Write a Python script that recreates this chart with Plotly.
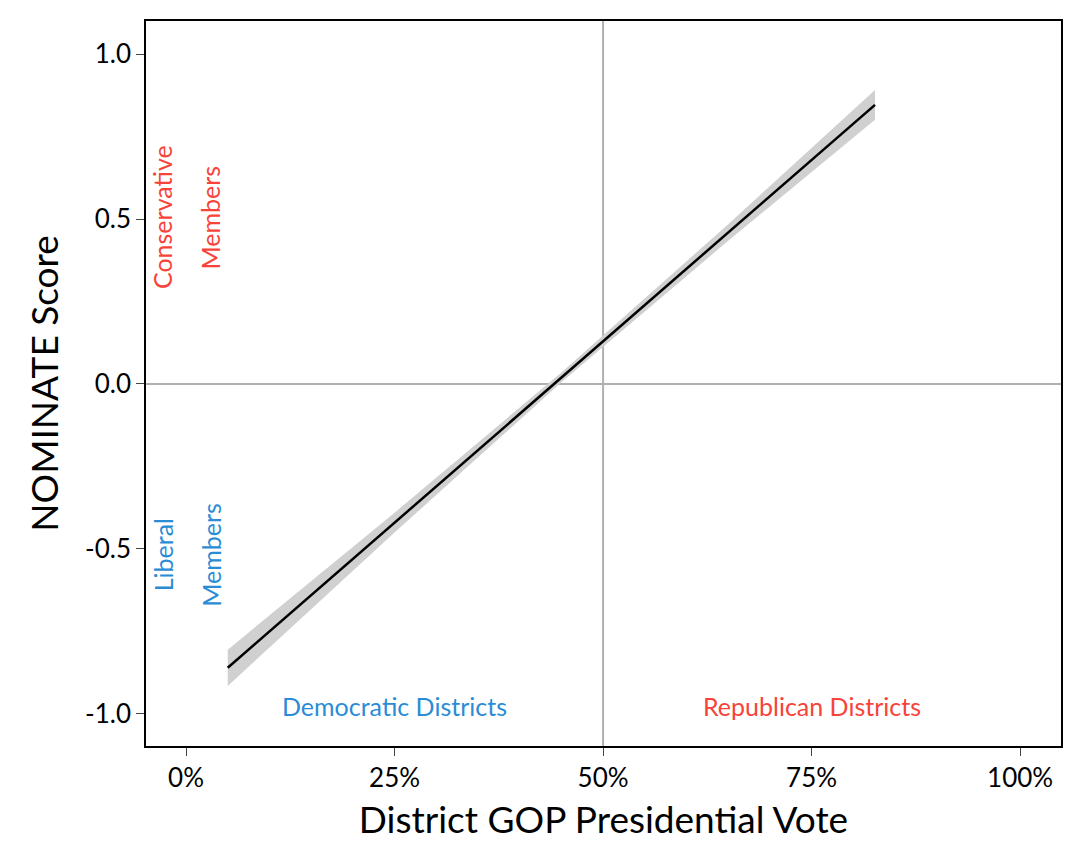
import plotly.graph_objects as go

# fitted line and confidence band
vote = [0.05, 0.25, 0.45, 0.65, 0.826]
fit = [-0.86, -0.42, 0.02, 0.459, 0.846]
lower = [-0.915, -0.45, 0.005, 0.434, 0.801]
upper = [-0.805, -0.39, 0.035, 0.484, 0.891]

x_ticks = [0, 0.25, 0.5, 0.75, 1.0]
x_labels = ['0%', '25%', '50%', '75%', '100%']
y_ticks = [-1.0, -0.5, 0.0, 0.5, 1.0]
y_labels = ['-1.0', '-0.5', '0.0', '0.5', '1.0']

red = '#f8433a'
blue = '#2b8cd6'

fig = go.Figure()
fig.add_trace(go.Scatter(x=vote + vote[::-1], y=upper + lower[::-1], fill='toself',
                         mode='lines', fillcolor='#d0d0d0', line={'width': 0},
                         hoverinfo='skip'))
fig.add_trace(go.Scatter(x=vote, y=fit, mode='lines', line={'color': 'black', 'width': 2.5}))

fig.add_vline(x=0.5, line_color='#b0b0b0', line_width=2, layer='below')
fig.add_hline(y=0, line_color='#b0b0b0', line_width=2, layer='below')

notes = [
    (-0.028, 0.505, 'Conservative', red, -90),
    (0.029, 0.505, 'Members', red, -90),
    (-0.028, -0.517, 'Liberal', blue, -90),
    (0.029, -0.517, 'Members', blue, -90),
    (0.25, -0.976, 'Democratic Districts', blue, 0),
    (0.75, -0.976, 'Republican Districts', red, 0),
]
for x, y, t, c, a in notes:
    fig.add_annotation(x=x, y=y, text=t, showarrow=False, textangle=a,
                       font={'color': c, 'size': 25})

fig.update_xaxes(range=[-0.048, 1.049], tickvals=x_ticks, ticktext=x_labels,
                 showgrid=False, zeroline=False, ticks='outside', ticklen=8,
                 showline=True, mirror=True, linecolor='black', linewidth=1.5,
                 title={'text': 'District GOP Presidential Vote', 'font': {'size': 37}},
                 tickfont={'size': 26})
fig.update_yaxes(range=[-1.097, 1.1], tickvals=y_ticks, ticktext=y_labels,
                 showgrid=False, zeroline=False, ticks='outside', ticklen=8,
                 showline=True, mirror=True, linecolor='black', linewidth=1.5,
                 title={'text': 'NOMINATE Score', 'font': {'size': 37}},
                 tickfont={'size': 26})
fig.update_layout(width=1080, height=864, showlegend=False,
                  margin={'l': 138, 'r': 27, 't': 11, 'b': 126},
                  paper_bgcolor='white', plot_bgcolor='white',
                  font={'family': 'Lato', 'color': 'black'})
fig.write_html('out.html')
